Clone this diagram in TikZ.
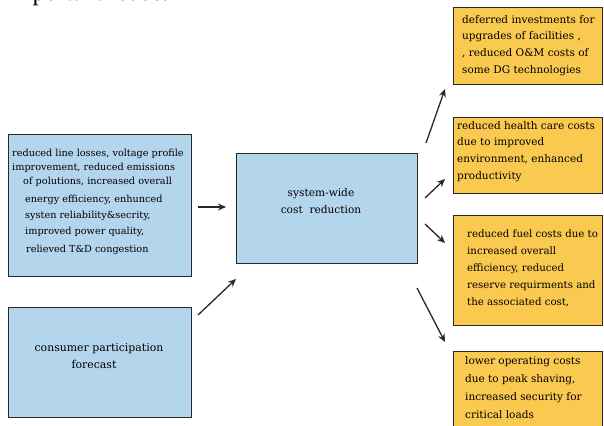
\documentclass[tikz,border=0pt]{standalone}
\usepackage{fontspec}
\usetikzlibrary{arrows.meta}
\setmainfont{DejaVu Serif}
\newfontfamily\timesf{Liberation Serif}
\definecolor{boxblue}{RGB}{180,214,236}
\definecolor{boxorange}{RGB}{250,201,80}
\definecolor{edgegrey}{RGB}{40,40,40}
\begin{document}
\begin{tikzpicture}[x=1pt,y=-1pt,
  box/.style={draw=edgegrey, line width=1.4pt, inner sep=0pt, anchor=north west},
  bluebox/.style={box, fill=boxblue},
  orangebox/.style={box, fill=boxorange},
  txt/.style={inner sep=0pt, align=left, anchor=north west, font=\fontsize{10.5}{16.8}\selectfont},
  arr/.style={draw=edgegrey, line width=1.3pt, -{Stealth[length=8pt,width=7pt]}}
]
\useasboundingbox (0,0) rectangle (604,425);
% top cut text
\node[inner sep=0pt, anchor=base west, font=\timesf\fontsize{25}{25}\selectfont] (top) at (6,1) {important loads.};
% boxes
\node[bluebox, minimum width=183pt, minimum height=142pt] (A) at (8,134) {};
\node[bluebox, minimum width=183pt, minimum height=110pt] (B) at (8,307) {};
\node[bluebox, minimum width=181pt, minimum height=110pt] (C) at (236,153) {};
\node[orangebox, minimum width=149pt, minimum height=77pt] (R1) at (453,7) {};
\node[orangebox, minimum width=149pt, minimum height=76pt] (R2) at (453,117) {};
\node[orangebox, minimum width=149pt, minimum height=110pt] (R3) at (453,215) {};
\node[orangebox, minimum width=149pt, minimum height=90pt] (R4) at (453,351) {};
% texts
\node[txt, font=\fontsize{9.7}{14}\selectfont] (tA) at (12,149) {%
\hspace*{0pt}reduced line losses, voltage profile\\
\hspace*{0pt}improvement, reduced emissions\\
\hspace*{11pt}of polutions, increased overall\\[4pt]
\hspace*{13pt}energy efficiency, enhunced\\[2pt]
\hspace*{13pt}systen reliability\&secrity,\\[2pt]
\hspace*{13pt}improved power quality,\\[4pt]
\hspace*{14pt}relieved T\&D congestion};
\node[inner sep=0pt, align=center, font=\fontsize{10.6}{17}\selectfont] (tC) at (321,201.5) {system-wide\\cost\ \ reduction};
\node[inner sep=0pt, align=center, font=\fontsize{10.9}{17}\selectfont] (tB) at (99,356.5) {consumer participation\\forecast\hspace*{10pt}};
\node[txt] (t1) at (462,15) {deferred investments for\\upgrades of facilities ,\\, reduced O\&M costs of\\some DG technologies};
\node[txt] (t2) at (457,121) {reduced health care costs\\due to improved\\environment, enhanced\\productivity};
\node[txt, font=\fontsize{10.2}{16.8}\selectfont] (t3) at (467,230) {reduced fuel costs due to\\increased overall\\efficiency, reduced\\reserve requirments and\\the associated cost,};
\node[txt, font=\fontsize{10.5}{18}\selectfont] (t4) at (465,356) {lower operating costs\\due to peak shaving,\\increased security for\\critical loads};
% arrow end points
\coordinate (a1s) at (198,207); \coordinate (a1e) at (226,207);
\coordinate (a2s) at (198,315); \coordinate (a2e) at (236,279);
\coordinate (a3s) at (426,143); \coordinate (a3e) at (445,89);
\coordinate (a4s) at (425,198); \coordinate (a4e) at (445,179);
\coordinate (a5s) at (425,224); \coordinate (a5e) at (445,243);
\coordinate (a6s) at (417,288); \coordinate (a6e) at (445,342);
\draw[arr] (a1s) -- (a1e);
\draw[arr] (a2s) -- (a2e);
\draw[arr] (a3s) -- (a3e);
\draw[arr] (a4s) -- (a4e);
\draw[arr] (a5s) -- (a5e);
\draw[arr] (a6s) -- (a6e);
\end{tikzpicture}
\end{document}
